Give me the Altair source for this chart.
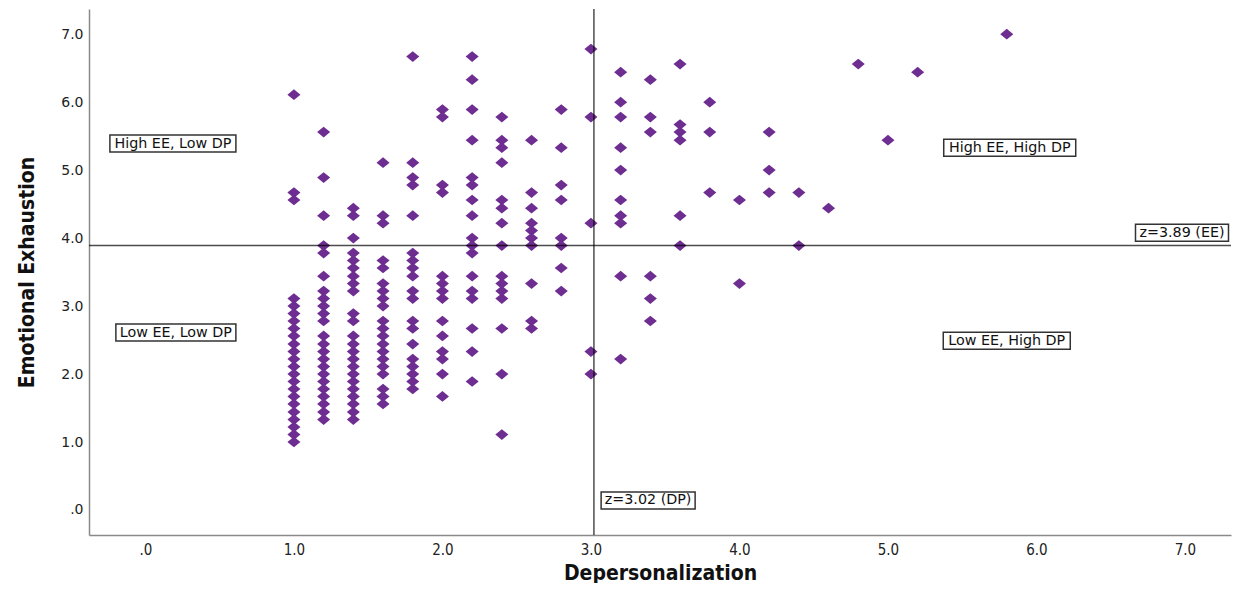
import altair as alt
import pandas as pd

# Depersonalization (DP) columns and the Emotional Exhaustion (EE) scores read for each
ee_10 = [6.11, 4.67, 4.56, 3.11, 3.0, 2.89, 2.78, 2.67, 2.56, 2.44, 2.33, 2.22, 2.11, 2.0,
         1.89, 1.78, 1.67, 1.56, 1.44, 1.33, 1.22, 1.11, 1.0]
ee_12 = [5.56, 4.89, 4.33, 3.89, 3.78, 3.44, 3.22, 3.11, 3.0, 2.89, 2.78, 2.56, 2.44, 2.33,
         2.22, 2.11, 2.0, 1.89, 1.78, 1.67, 1.56, 1.44, 1.33]
ee_14 = [4.44, 4.33, 4.0, 3.78, 3.67, 3.56, 3.44, 3.33, 3.22, 2.89, 2.78, 2.56, 2.44, 2.33,
         2.22, 2.11, 2.0, 1.89, 1.78, 1.67, 1.56, 1.44, 1.33]
ee_16 = [5.11, 4.33, 4.22, 3.67, 3.56, 3.33, 3.22, 3.11, 3.0, 2.78, 2.67, 2.56, 2.44, 2.33,
         2.22, 2.11, 2.0, 1.78, 1.67, 1.56]
ee_18 = [6.67, 5.11, 4.89, 4.78, 4.33, 3.78, 3.67, 3.56, 3.44, 3.22, 3.11, 2.78, 2.67, 2.44,
         2.22, 2.11, 2.0, 1.89, 1.78]
ee_20 = [5.89, 5.78, 4.78, 4.67, 3.44, 3.33, 3.22, 3.11, 2.78, 2.56, 2.33, 2.22, 2.0, 1.67]
ee_22 = [6.67, 6.33, 5.89, 5.44, 4.89, 4.78, 4.56, 4.33, 4.0, 3.89, 3.78, 3.44, 3.22, 3.11,
         2.67, 2.33, 1.89]
ee_24 = [5.78, 5.44, 5.33, 5.11, 4.56, 4.44, 4.22, 3.89, 3.44, 3.33, 3.22, 3.11, 2.67, 2.0, 1.11]
ee_26 = [5.44, 4.67, 4.44, 4.22, 4.11, 4.0, 3.89, 3.33, 2.78, 2.67]
ee_28 = [5.89, 5.33, 4.78, 4.56, 4.0, 3.89, 3.56, 3.22]
ee_30 = [6.78, 5.78, 4.22, 2.33, 2.0]
ee_32 = [6.44, 6.0, 5.78, 5.33, 5.0, 4.56, 4.33, 4.22, 3.44, 2.22]
ee_34 = [6.33, 5.78, 5.56, 3.44, 3.11, 2.78]
ee_36 = [6.56, 5.67, 5.56, 5.44, 4.33, 3.89]
ee_38 = [6.0, 5.56, 4.67]
ee_40 = [4.56, 3.33]
ee_42 = [5.56, 5.0, 4.67]
ee_44 = [4.67, 3.89]
ee_46 = [4.44]
ee_48 = [6.56]
ee_50 = [5.44]
ee_52 = [6.44]
ee_58 = [7.0]

dp_values = [1.0, 1.2, 1.4, 1.6, 1.8, 2.0, 2.2, 2.4, 2.6, 2.8, 3.0, 3.2, 3.4, 3.6, 3.8,
             4.0, 4.2, 4.4, 4.6, 4.8, 5.0, 5.2, 5.8]
ee_columns = [ee_10, ee_12, ee_14, ee_16, ee_18, ee_20, ee_22, ee_24, ee_26, ee_28, ee_30,
              ee_32, ee_34, ee_36, ee_38, ee_40, ee_42, ee_44, ee_46, ee_48, ee_50, ee_52, ee_58]

# cut-off lines
dp_cut = 3.02
ee_cut = 3.89

# annotation labels
label_texts = ["High EE, Low DP", "Low EE, Low DP", "High EE, High DP", "Low EE, High DP",
               "z=3.89 (EE)", "z=3.02 (DP)"]
label_dp = [0.185, 0.205, 5.82, 5.80, 6.98, 3.385]
label_ee = [5.39, 2.61, 5.33, 2.49, 4.08, 0.14]
label_box_w = [126, 120, 132, 127, 93, 94]

rows = []
for dp, col in zip(dp_values, ee_columns):
    for ee in col:
        rows.append({"DP": dp, "EE": ee})
df = pd.DataFrame(rows)

lab_df = pd.DataFrame({"text": label_texts, "DP": label_dp, "EE": label_ee, "w": label_box_w})

PURPLE = "#6e2d91"
LABEL_FONT = "DejaVu Sans"
NARROW = "Liberation Sans Narrow, DejaVu Sans Condensed, Roboto Condensed, Liberation Sans, sans-serif"

xscale = alt.Scale(domain=[-0.38, 7.31], nice=False, zero=False)
yscale = alt.Scale(domain=[-0.368, 7.37], nice=False, zero=False)
label_expr = "datum.value == 0 ? '.0' : format(datum.value, '.1f')"

diamond = "M-1,0L0,-0.82L1,0L0,0.82Z"

points = alt.Chart(df).mark_point(
    shape=diamond, filled=True, fill=PURPLE, opacity=1, size=170, strokeWidth=0
).encode(
    x=alt.X("DP:Q", scale=xscale,
            axis=alt.Axis(values=[0, 1, 2, 3, 4, 5, 6, 7], labelExpr=label_expr, ticks=False,
                          grid=False, labelPadding=7, labelFont=NARROW, labelFontSize=15,
                          labelColor="#222", domainColor="#8a8a8a", domainWidth=1.5,
                          title="Depersonalization", titleFont=NARROW, titleFontWeight="bold",
                          titleFontSize=21, titleColor="#111", titleY=38,
                          titleBaseline="middle")),
    y=alt.Y("EE:Q", scale=yscale,
            axis=alt.Axis(values=[0, 1, 2, 3, 4, 5, 6, 7], labelExpr=label_expr, ticks=False,
                          grid=False, labelPadding=6, labelFont=LABEL_FONT, labelFontSize=14,
                          labelColor="#222", domainColor="#8a8a8a", domainWidth=1.5,
                          title="Emotional Exhaustion", titleFont=NARROW, titleFontWeight="bold",
                          titleFontSize=21, titleColor="#111", titleX=-62,
                          titleBaseline="middle")),
)

vline = alt.Chart(pd.DataFrame({"v": [dp_cut]})).mark_rule(
    color="#000", opacity=0.7, strokeWidth=1.5
).encode(x=alt.X("v:Q", scale=xscale))

hline = alt.Chart(pd.DataFrame({"v": [ee_cut]})).mark_rule(
    color="#000", opacity=0.7, strokeWidth=1.5
).encode(y=alt.Y("v:Q", scale=yscale))

boxes = []
for i in range(len(label_texts)):
    w = label_box_w[i]
    boxes.append(
        alt.Chart(lab_df.iloc[[i]]).mark_rect(
            fill="white", stroke="#333", strokeWidth=1.5,
            xOffset=-w / 2, x2Offset=w / 2, yOffset=-8.5, y2Offset=8.5
        ).encode(
            x=alt.X("DP:Q", scale=xscale), x2="DP:Q",
            y=alt.Y("EE:Q", scale=yscale), y2="EE:Q",
        )
    )

texts = alt.Chart(lab_df).mark_text(
    font=LABEL_FONT, fontSize=14.3, color="#111", align="center", baseline="middle"
).encode(
    x=alt.X("DP:Q", scale=xscale),
    y=alt.Y("EE:Q", scale=yscale),
    text="text:N",
)

chart = alt.layer(points, vline, hline, *boxes, texts).properties(
    width=1142,
    height=526,
    autosize=alt.AutoSizeParams(type="none"),
    padding={"left": 81, "top": 1, "right": 2, "bottom": 48},
    background="white",
).configure_view(strokeWidth=0)

chart.save("out.html", embed_options={"renderer": "svg", "actions": False})
